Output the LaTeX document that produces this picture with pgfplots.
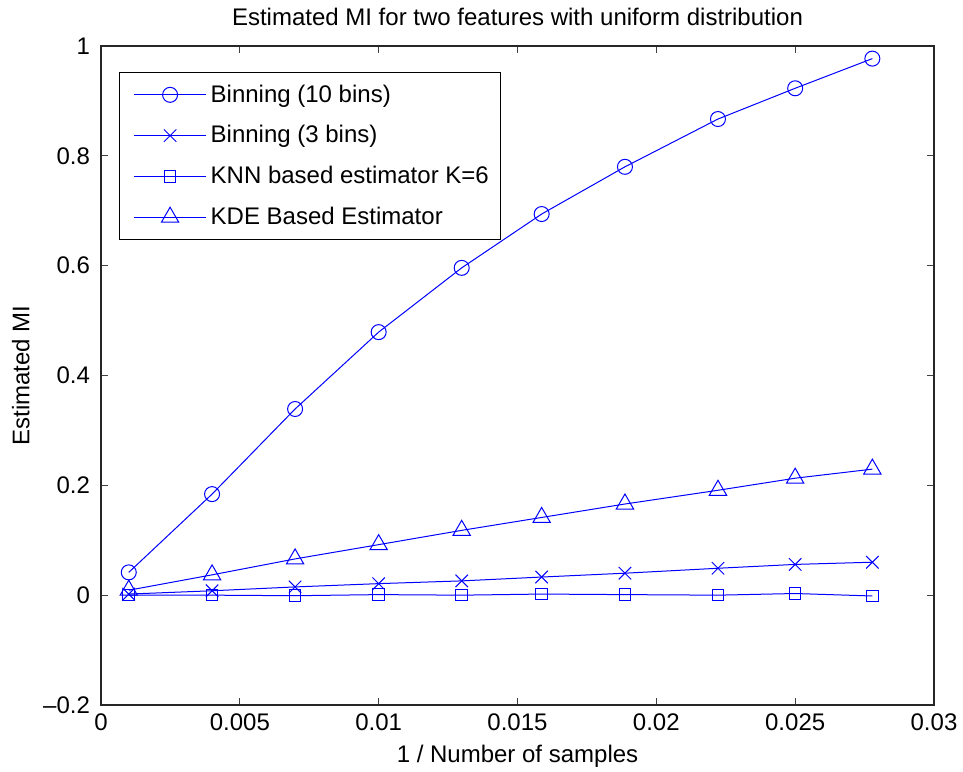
\documentclass[border=0pt]{standalone}
\usepackage{fontspec}
\setmainfont{Liberation Sans}
\usepackage{pgfplots}
\pgfplotsset{compat=1.18}
\usetikzlibrary{calc}
\definecolor{mblue}{rgb}{0,0,1}
\begin{document}
\begin{tikzpicture}
\begin{axis}[
  name=ax,
  scale only axis,
  width=416.5pt, height=329.5pt,
  xmin=0, xmax=0.03, ymin=-0.2, ymax=1,
  xtick={0,0.005,0.01,0.015,0.02,0.025,0.03},
  xticklabels={0,0.005,0.01,0.015,0.02,0.025,0.03},
  ytick={-0.2,0,0.2,0.4,0.6,0.8,1},
  yticklabels={\textendash0.2,0,0.2,0.4,0.6,0.8,1},
  scaled x ticks=false, scaled y ticks=false,
  tick align=inside,
  major tick length=3.5pt,
  axis line style={line width=0.6pt, black!85},
  every tick/.style={line width=0.6pt, black!75},
  font=\fontsize{12}{14}\selectfont,
  tick label style={font=\fontsize{12}{14}\selectfont},
  xticklabel style={yshift=-1pt},
  yticklabel style={xshift=-2pt},
  title={Estimated MI for two features with uniform distribution},
  title style={font=\fontsize{12}{14}\selectfont, yshift=0.5pt},
  xlabel={1 / Number of samples},
  ylabel={Estimated MI},
  xlabel style={font=\fontsize{12}{14}\selectfont},
  ylabel style={font=\fontsize{12}{14}\selectfont},
  legend cell align=left,
  legend style={
    at={(0.0216,0.9605)}, anchor=north west,
    font=\fontsize{12}{14}\selectfont,
    draw=black, line width=0.6pt,
    row sep=6.2pt,
    inner xsep=4pt, inner ysep=4pt,
    /tikz/every even column/.append style={column sep=5.5pt},
  },
  legend image code/.code={%
    \path (0pt,0pt);
    \draw[draw=mblue, line width=0.6pt] (3pt,0pt) -- (39pt,0pt);
    \draw[draw=mblue, line width=0.5pt] plot[only marks, mark options={draw=mblue}] coordinates {(21pt,0pt)};
  },
  every axis plot/.append style={line width=0.5pt, draw=mblue, mark options={solid, draw=mblue, line width=0.5pt}},
]
\addplot[draw=mblue, mark=o, mark size=3.75pt] coordinates {
(0.001,0.0415) (0.004,0.184) (0.00699,0.339) (0.01,0.479) (0.01299,0.596)
(0.01587,0.694) (0.01887,0.780) (0.02222,0.867) (0.025,0.923) (0.02778,0.977)};
\addlegendentry{Binning (10 bins)}
\addplot[draw=mblue, mark=x, mark size=4.4pt] coordinates {
(0.001,0.002) (0.004,0.008) (0.00699,0.015) (0.01,0.021) (0.01299,0.026)
(0.01587,0.033) (0.01887,0.040) (0.02222,0.049) (0.025,0.056) (0.02778,0.060)};
\addlegendentry{Binning (3 bins)}
\addplot[draw=mblue, mark=square, mark size=2.9pt] coordinates {
(0.001,0.0) (0.004,0.0) (0.00699,-0.001) (0.01,0.001) (0.01299,0.0)
(0.01587,0.002) (0.01887,0.001) (0.02222,0.0) (0.025,0.003) (0.02778,-0.0015)};
\addlegendentry{KNN based estimator K=6}
\addplot[draw=mblue, mark=triangle, mark size=5pt] coordinates {
(0.001,0.009) (0.004,0.037) (0.00699,0.066) (0.01,0.092) (0.01299,0.118)
(0.01587,0.1415) (0.01887,0.166) (0.02222,0.191) (0.025,0.213) (0.02778,0.2295)};
\addlegendentry{KDE Based Estimator}
\end{axis}
\pgfresetboundingbox
\useasboundingbox ($(ax.south west)+(-50.5pt,-33pt)$) rectangle ($(ax.north east)+(14.5pt,23pt)$);
\end{tikzpicture}
\end{document}
